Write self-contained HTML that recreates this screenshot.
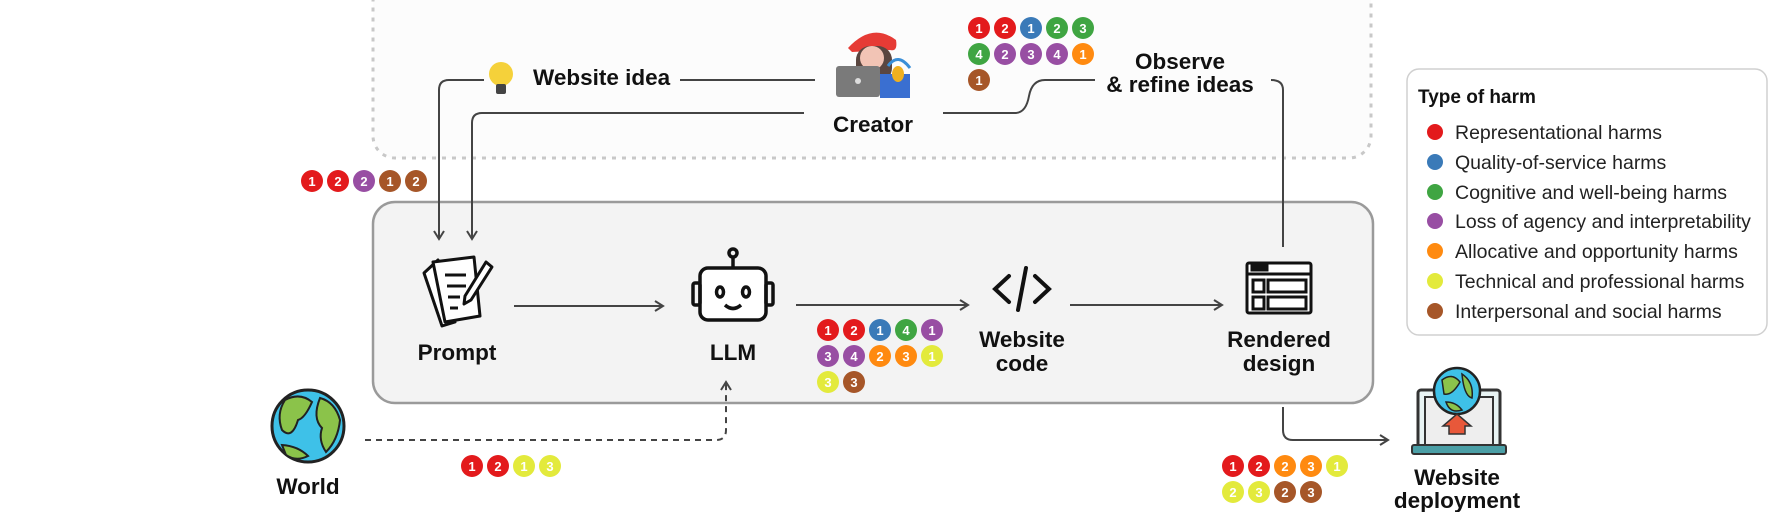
<!DOCTYPE html>
<html><head><meta charset="utf-8"><style>
body{margin:0;background:#fff;}
svg{display:block;font-family:"Liberation Sans",sans-serif;}
.lbl{font-weight:bold;font-size:22.5px;fill:#111;text-anchor:middle;}
.leg{font-size:19.5px;fill:#222;}
.b text{font-size:13px;fill:#fff;text-anchor:middle;font-weight:bold;}
.ln{stroke:#444;stroke-width:2;fill:none;}
</style></head><body>
<svg width="1770" height="512" viewBox="0 0 1770 512">
<defs>
<marker id="ar" markerWidth="12" markerHeight="12" refX="10" refY="6" orient="auto" markerUnits="userSpaceOnUse">
<path d="M2,1 L10,6 L2,11" fill="none" stroke="#444" stroke-width="2"/></marker>
</defs>
<rect x="373" y="-20" width="998" height="178" rx="22" fill="#fcfcfc" stroke="#c8c8c8" stroke-width="3" stroke-dasharray="4,6"/>
<rect x="373" y="202" width="1000" height="201" rx="22" fill="#f3f3f3" stroke="#9a9a9a" stroke-width="2.5"/>
<rect x="1407" y="69" width="360" height="266" rx="12" fill="#fff" stroke="#d0d0d0" stroke-width="1.5"/>
<text x="1418" y="103" style="font-weight:bold;font-size:19px" fill="#111">Type of harm</text>
<g class="leg">
<circle cx="1435" cy="132" r="8" fill="#e31a1c"/><text x="1455" y="139">Representational harms</text>
<circle cx="1435" cy="162" r="8" fill="#3a7ab8"/><text x="1455" y="169">Quality-of-service harms</text>
<circle cx="1435" cy="192" r="8" fill="#3fa542"/><text x="1455" y="199">Cognitive and well-being harms</text>
<circle cx="1435" cy="221" r="8" fill="#984ea3"/><text x="1455" y="228">Loss of agency and interpretability</text>
<circle cx="1435" cy="251" r="8" fill="#ff8a10"/><text x="1455" y="258">Allocative and opportunity harms</text>
<circle cx="1435" cy="281" r="8" fill="#e3ea3c"/><text x="1455" y="288">Technical and professional harms</text>
<circle cx="1435" cy="311" r="8" fill="#a65628"/><text x="1455" y="318">Interpersonal and social harms</text>
</g>
<path class="ln" d="M484,80 H449 Q439,80 439,90 V239" marker-end="url(#ar)"/>
<path class="ln" d="M680,80 H815"/>
<path class="ln" d="M804,113 H482 Q472,113 472,123 V239" marker-end="url(#ar)"/>
<path class="ln" d="M943,113 H1015 Q1026,113 1029,96 Q1032,80 1045,80 H1095"/>
<path class="ln" d="M1283,247 V90 Q1283,80 1271,80"/>
<path class="ln" d="M514,306 H663" marker-end="url(#ar)"/>
<path class="ln" d="M796,305 H968" marker-end="url(#ar)"/>
<path class="ln" d="M1070,305 H1222" marker-end="url(#ar)"/>
<path class="ln" d="M1283,407 V430 Q1283,440 1293,440 H1388" marker-end="url(#ar)"/>
<path class="ln" d="M365,440 H716 Q726,440 726,430 V382" stroke-dasharray="6,5" marker-end="url(#ar)"/>
<g>
<path d="M848,48 Q872,22 896,40 Q898,52 890,50 L852,52 Z" fill="#e63b35"/>
<rect x="856" y="46" width="36" height="36" rx="14" fill="#5a4640"/>
<ellipse cx="872" cy="58" rx="12" ry="12" fill="#f2c4b5"/>
<rect x="836" y="66" width="44" height="31" rx="3" fill="#7a7a7a"/>
<circle cx="858" cy="81" r="3" fill="#ddd"/>
<rect x="880" y="74" width="30" height="24" fill="#3a6fd1"/>
<path d="M888,66 Q898,52 910,68" stroke="#3a8fd8" stroke-width="3" fill="none"/>
<ellipse cx="898" cy="74" rx="6" ry="8" fill="#f0b020"/>
</g>
<text class="lbl" x="873" y="132">Creator</text>
<circle cx="501" cy="74" r="12" fill="#f5d13a"/>
<rect x="496" y="84" width="10" height="10" rx="2" fill="#444"/>
<text x="533" y="85" style="font-weight:bold;font-size:22.5px" fill="#111">Website idea</text>
<text class="lbl" x="1180" y="69">Observe</text>
<text class="lbl" x="1180" y="92">&amp; refine ideas</text>
<g stroke="#111" stroke-width="3" fill="none" stroke-linejoin="round">
<path d="M424,273 L438,260 L455,322 L442,326 Z" fill="#fff"/>
<path d="M433,262 L474,257 L480,316 L445,322 Z" fill="#fff"/>
<path d="M445,275 H466 M447,286 H466 M448,297 H460 M450,308 H458"/>
<path d="M486,262 L492,267 L471,300 L464,304 L465,296 Z" fill="#fff"/>
</g>
<text class="lbl" x="457" y="360">Prompt</text>
<g stroke="#111" stroke-width="3.5" fill="none">
<circle cx="733" cy="253" r="4"/><path d="M733,257 V268"/>
<rect x="700" y="268" width="66" height="52" rx="8" fill="#fff"/>
<rect x="693" y="283" width="7" height="22" rx="2"/><rect x="766" y="283" width="7" height="22" rx="2"/>
<ellipse cx="720" cy="292" rx="3.5" ry="5"/><ellipse cx="746" cy="292" rx="3.5" ry="5"/>
<path d="M725,305 Q733,312 741,305"/>
</g>
<text class="lbl" x="733" y="360">LLM</text>
<g stroke="#111" stroke-width="4" fill="none" stroke-linecap="round">
<path d="M1009,276 L995,289 L1009,302"/><path d="M1035,276 L1049,289 L1035,302"/><path d="M1026,268 L1018,310"/>
</g>
<text class="lbl" x="1022" y="347">Website</text>
<text class="lbl" x="1022" y="371">code</text>
<g stroke="#111" stroke-width="3" fill="#fff">
<rect x="1247" y="263" width="64" height="50" rx="2"/>
<path d="M1247,274 H1311" fill="none"/>
<rect x="1252" y="266" width="3" height="4"/><rect x="1258" y="266" width="3" height="4"/><rect x="1264" y="266" width="3" height="4"/>
<rect x="1253" y="280" width="11" height="12"/><rect x="1268" y="280" width="38" height="12"/>
<rect x="1253" y="297" width="11" height="12"/><rect x="1268" y="297" width="38" height="12"/>
</g>
<text class="lbl" x="1279" y="347">Rendered</text>
<text class="lbl" x="1279" y="371">design</text>
<g>
<circle cx="308" cy="426" r="36" fill="#3ec1e8" stroke="#222" stroke-width="3"/>
<path d="M285,400 Q300,392 312,402 Q305,418 298,420 Q292,440 282,430 Q276,414 285,400Z" fill="#8bc34a" stroke="#222" stroke-width="2"/>
<path d="M320,398 Q335,402 340,420 Q338,440 326,452 Q318,440 322,428 Q312,418 320,398Z" fill="#8bc34a" stroke="#222" stroke-width="2"/>
<path d="M282,445 Q298,446 308,456 Q296,462 286,455Z" fill="#8bc34a" stroke="#222" stroke-width="2"/>
</g>
<text class="lbl" x="308" y="494">World</text>
<g>
<rect x="1418" y="390" width="82" height="62" rx="3" fill="#e8f3f3" stroke="#333" stroke-width="3"/>
<rect x="1425" y="397" width="68" height="48" fill="#eee" stroke="#333" stroke-width="2"/>
<rect x="1412" y="445" width="94" height="9" rx="2" fill="#4b9fa6" stroke="#333" stroke-width="2"/>
<circle cx="1457" cy="391" r="23" fill="#3ec1e8" stroke="#222" stroke-width="2.5"/>
<path d="M1442,380 Q1452,372 1460,382 Q1452,396 1444,394Z M1462,374 Q1474,382 1472,398 Q1464,396 1462,374Z M1446,402 Q1456,402 1462,410 Q1450,414 1446,402Z" fill="#8bc34a" stroke="#222" stroke-width="1.5"/>
<path d="M1449,434 V426 H1443 L1457,414 L1471,426 H1465 V434 Z" fill="#e8583a" stroke="#333" stroke-width="1.5"/>
</g>
<text class="lbl" x="1457" y="485">Website</text>
<text class="lbl" x="1457" y="508">deployment</text>
<g class="b">
<circle cx="979" cy="28" r="11" fill="#e31a1c"/><text x="979" y="33">1</text>
<circle cx="1005" cy="28" r="11" fill="#e31a1c"/><text x="1005" y="33">2</text>
<circle cx="1031" cy="28" r="11" fill="#3a7ab8"/><text x="1031" y="33">1</text>
<circle cx="1057" cy="28" r="11" fill="#3fa542"/><text x="1057" y="33">2</text>
<circle cx="1083" cy="28" r="11" fill="#3fa542"/><text x="1083" y="33">3</text>
<circle cx="979" cy="54" r="11" fill="#3fa542"/><text x="979" y="59">4</text>
<circle cx="1005" cy="54" r="11" fill="#984ea3"/><text x="1005" y="59">2</text>
<circle cx="1031" cy="54" r="11" fill="#984ea3"/><text x="1031" y="59">3</text>
<circle cx="1057" cy="54" r="11" fill="#984ea3"/><text x="1057" y="59">4</text>
<circle cx="1083" cy="54" r="11" fill="#ff8a10"/><text x="1083" y="59">1</text>
<circle cx="979" cy="80" r="11" fill="#a65628"/><text x="979" y="85">1</text>
<circle cx="312" cy="181" r="11" fill="#e31a1c"/><text x="312" y="186">1</text>
<circle cx="338" cy="181" r="11" fill="#e31a1c"/><text x="338" y="186">2</text>
<circle cx="364" cy="181" r="11" fill="#984ea3"/><text x="364" y="186">2</text>
<circle cx="390" cy="181" r="11" fill="#a65628"/><text x="390" y="186">1</text>
<circle cx="416" cy="181" r="11" fill="#a65628"/><text x="416" y="186">2</text>
<circle cx="828" cy="330" r="11" fill="#e31a1c"/><text x="828" y="335">1</text>
<circle cx="854" cy="330" r="11" fill="#e31a1c"/><text x="854" y="335">2</text>
<circle cx="880" cy="330" r="11" fill="#3a7ab8"/><text x="880" y="335">1</text>
<circle cx="906" cy="330" r="11" fill="#3fa542"/><text x="906" y="335">4</text>
<circle cx="932" cy="330" r="11" fill="#984ea3"/><text x="932" y="335">1</text>
<circle cx="828" cy="356" r="11" fill="#984ea3"/><text x="828" y="361">3</text>
<circle cx="854" cy="356" r="11" fill="#984ea3"/><text x="854" y="361">4</text>
<circle cx="880" cy="356" r="11" fill="#ff8a10"/><text x="880" y="361">2</text>
<circle cx="906" cy="356" r="11" fill="#ff8a10"/><text x="906" y="361">3</text>
<circle cx="932" cy="356" r="11" fill="#e3ea3c"/><text x="932" y="361" fill="#111">1</text>
<circle cx="828" cy="382" r="11" fill="#e3ea3c"/><text x="828" y="387" fill="#111">3</text>
<circle cx="854" cy="382" r="11" fill="#a65628"/><text x="854" y="387">3</text>
<circle cx="472" cy="466" r="11" fill="#e31a1c"/><text x="472" y="471">1</text>
<circle cx="498" cy="466" r="11" fill="#e31a1c"/><text x="498" y="471">2</text>
<circle cx="524" cy="466" r="11" fill="#e3ea3c"/><text x="524" y="471" fill="#111">1</text>
<circle cx="550" cy="466" r="11" fill="#e3ea3c"/><text x="550" y="471" fill="#111">3</text>
<circle cx="1233" cy="466" r="11" fill="#e31a1c"/><text x="1233" y="471">1</text>
<circle cx="1259" cy="466" r="11" fill="#e31a1c"/><text x="1259" y="471">2</text>
<circle cx="1285" cy="466" r="11" fill="#ff8a10"/><text x="1285" y="471">2</text>
<circle cx="1311" cy="466" r="11" fill="#ff8a10"/><text x="1311" y="471">3</text>
<circle cx="1337" cy="466" r="11" fill="#e3ea3c"/><text x="1337" y="471" fill="#111">1</text>
<circle cx="1233" cy="492" r="11" fill="#e3ea3c"/><text x="1233" y="497" fill="#111">2</text>
<circle cx="1259" cy="492" r="11" fill="#e3ea3c"/><text x="1259" y="497" fill="#111">3</text>
<circle cx="1285" cy="492" r="11" fill="#a65628"/><text x="1285" y="497">2</text>
<circle cx="1311" cy="492" r="11" fill="#a65628"/><text x="1311" y="497">3</text>
</g>
</svg>
</body></html>
